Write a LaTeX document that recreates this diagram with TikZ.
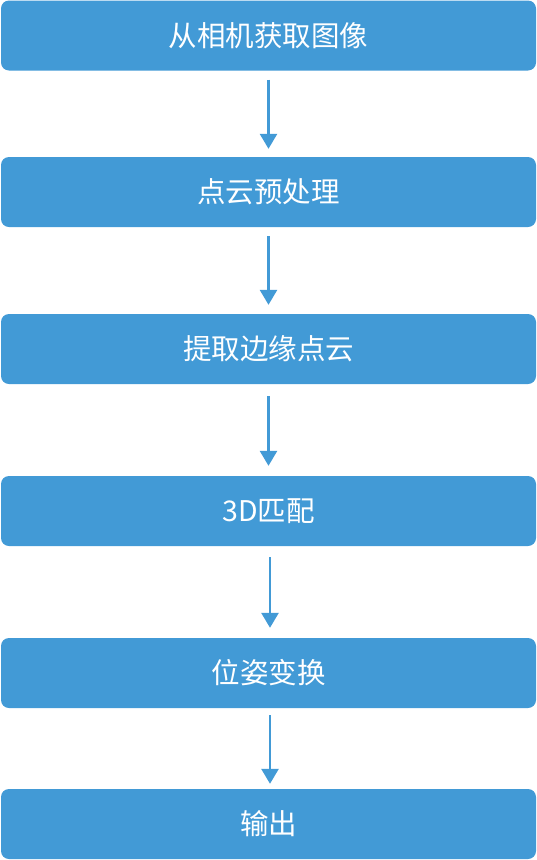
\documentclass[tikz,border=0pt]{standalone}
\usepackage{fontspec}
\newfontfamily\cjk{Noto Sans CJK SC}
\usepackage{tikz}
\usetikzlibrary{arrows.meta}

\definecolor{stepblue}{RGB}{66,154,214}

\tikzset{
  stepbox/.style={fill=stepblue, rounded corners=8pt, minimum width=535pt,
    minimum height=70pt, inner sep=0pt, text=white, font=\cjk\fontsize{28.5}{32}\selectfont},
  flow/.style={draw=stepblue, line width=2.8pt,
    -{Triangle[width=17pt,length=15pt]}}
}

\begin{document}
\begin{tikzpicture}[x=1pt, y=-1pt]
            % Fix the page to the size of the reference
            \useasboundingbox (0,0) rectangle (537,860);

            % Process steps, top to bottom
            \node[stepbox] (grab)   at (268.5,35.5) {从相机获取图像};
            \node[stepbox] (prep)   at (268.5,192) {点云预处理};
            \node[stepbox] (edge)   at (268.5,349) {提取边缘点云};
            \node[stepbox] (match)  at (268.5,511) {3D匹配};
            \node[stepbox] (pose)   at (268.5,673) {位姿变换};
            \node[stepbox] (output) at (268.5,824) {输出};

            % Arrows between the steps
            \draw[flow, shorten <=9pt, shorten >=8pt] (grab) -- (prep);
            \draw[flow, shorten <=9pt, shorten >=9pt] (prep) -- (edge);
            \draw[flow, shorten <=12pt, shorten >=10pt] (edge) -- (match);
            \draw[flow, shorten <=11pt, shorten >=10pt] ([xshift=1.5pt]match.south) -- ([xshift=1.5pt]pose.north);
            \draw[flow, shorten <=7pt, shorten >=5pt] ([xshift=1.5pt]pose.south) -- ([xshift=1.5pt]output.north);
        \end{tikzpicture}
\end{document}
